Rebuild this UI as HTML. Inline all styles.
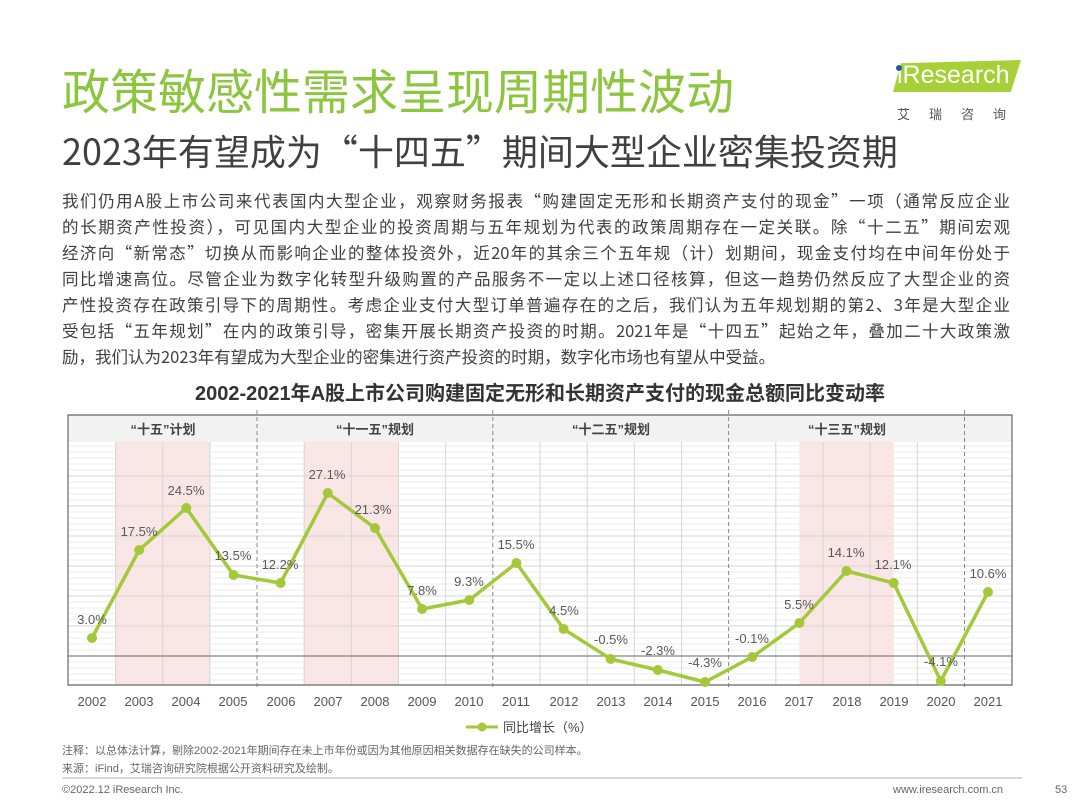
<!DOCTYPE html>
<html><head><meta charset="utf-8"><style>
body{margin:0;width:1080px;height:810px;background:#fff;font-family:"Liberation Sans","Noto Sans CJK SC",sans-serif;position:relative;overflow:hidden}
.a{position:absolute;white-space:nowrap}
.l{position:absolute;left:62px;width:948px;font-size:16.5px;color:#404040;text-align:justify;text-align-last:justify;white-space:nowrap;font-family:"Noto Sans CJK SC",sans-serif;line-height:26px}
.l.e{text-align-last:left}
</style></head><body>
<div class="a" style="left:62px;top:58px;font-size:48px;color:#8cc63f;font-family:'Noto Sans CJK SC',sans-serif;line-height:60px">政策敏感性需求呈现周期性波动</div>
<div class="a" style="left:62px;top:125px;font-size:36px;color:#404040;font-family:'Noto Sans CJK SC',sans-serif;line-height:50px">2023年有望成为“十四五”期间大型企业密集投资期</div>
<div class="a" style="left:893px;top:60px;width:128px;height:32px;background:#a7cf37;clip-path:polygon(6% 10%,100% 0,92% 100%,0 100%)"></div>
<div class="a" style="left:897px;top:61px;font-size:25px;color:#fff">iResearch</div>
<div class="a" style="left:896px;top:65px;width:6px;height:6px;border-radius:50%;background:#1f5aa8"></div>
<div class="a" style="left:897px;top:104px;font-size:13px;color:#555;letter-spacing:19px">艾瑞咨询</div>
<div class="l" style="top:187px">我们仍用A股上市公司来代表国内大型企业，观察财务报表“购建固定无形和长期资产支付的现金”一项（通常反应企业</div>
<div class="l" style="top:213px">的长期资产性投资），可见国内大型企业的投资周期与五年规划为代表的政策周期存在一定关联。除“十二五”期间宏观</div>
<div class="l" style="top:239px">经济向“新常态”切换从而影响企业的整体投资外，近20年的其余三个五年规（计）划期间，现金支付均在中间年份处于</div>
<div class="l" style="top:265px">同比增速高位。尽管企业为数字化转型升级购置的产品服务不一定以上述口径核算，但这一趋势仍然反应了大型企业的资</div>
<div class="l" style="top:291px">产性投资存在政策引导下的周期性。考虑企业支付大型订单普遍存在的之后，我们认为五年规划期的第2、3年是大型企业</div>
<div class="l" style="top:317px">受包括“五年规划”在内的政策引导，密集开展长期资产投资的时期。2021年是“十四五”起始之年，叠加二十大政策激</div>
<div class="l e" style="top:343px">励，我们认为2023年有望成为大型企业的密集进行资产投资的时期，数字化市场也有望从中受益。</div>
<div class="a" style="left:0;width:1080px;text-align:center;top:377px;font-size:20px;font-weight:bold;color:#333">2002-2021年A股上市公司购建固定无形和长期资产支付的现金总额同比变动率</div>
<svg class="a" style="left:0;top:0" width="1080" height="810" font-family="Liberation Sans, Noto Sans CJK SC, sans-serif">
<rect x="68" y="442" width="944" height="243" fill="#fff"/>
<rect x="68" y="415" width="944" height="27" fill="#f2f2f2"/>
<rect x="115.6" y="442" width="94.3" height="243" fill="#fbe4e4"/>
<rect x="304.2" y="442" width="94.3" height="243" fill="#fbe4e4"/>
<rect x="799.4" y="442" width="94.3" height="243" fill="#fbe4e4"/>
<g stroke="#ececec" stroke-width="1">
<path d="M68 446H1012M68 452H1012M68 458H1012M68 464H1012M68 470H1012M68 476H1012M68 482H1012M68 488H1012M68 494H1012M68 500H1012M68 506H1012M68 512H1012M68 518H1012M68 524H1012M68 530H1012M68 536H1012M68 542H1012M68 548H1012M68 554H1012M68 560H1012M68 566H1012M68 572H1012M68 578H1012M68 584H1012M68 590H1012M68 596H1012M68 602H1012M68 608H1012M68 614H1012M68 620H1012M68 626H1012M68 632H1012M68 638H1012M68 644H1012M68 650H1012M68 662H1012M68 668H1012M68 674H1012M68 680H1012"/>
</g>
<g stroke="#d6d6d6" stroke-width="1">
<path d="M68 476H1012M68 506H1012M68 536H1012M68 566H1012M68 596H1012M68 626H1012"/>
<path d="M115.6 442V685M162.7 442V685M209.9 442V685M304.2 442V685M351.4 442V685M398.5 442V685M445.7 442V685M540 442V685M587.2 442V685M634.3 442V685M681.5 442V685M775.8 442V685M823 442V685M870.1 442V685M917.3 442V685"/>
</g>
<path d="M68 656H1012" stroke="#666" stroke-width="1"/>
<g stroke="#888" stroke-width="1" stroke-dasharray="4,3">
<path d="M257 410V690M492.8 410V690M728.6 410V690M964.5 410V690"/>
</g>
<path d="M68 415H1012V685H68Z" fill="none" stroke="#666" stroke-width="1.2"/>
<g font-size="13" font-weight="bold" fill="#444" text-anchor="middle">
<text x="163" y="434">“十五”计划</text>
<text x="375" y="434">“十一五”规划</text>
<text x="611" y="434">“十二五”规划</text>
<text x="847" y="434">“十三五”规划</text>
</g>
<polyline fill="none" stroke="#a3c93a" stroke-width="3.5" stroke-linejoin="round" points="92,638 139.2,550 186.3,508 233.5,575 280.6,583 327.8,493 375,528 422.1,609 469.3,600 516.4,563 563.6,629 610.7,659 657.9,670 705,682 752.2,657 799.4,623 846.5,571 893.7,583 940.8,681 988,592"/>
<g fill="#a3c93a">
<circle cx="92" cy="638" r="5"/><circle cx="139.2" cy="550" r="5"/><circle cx="186.3" cy="508" r="5"/><circle cx="233.5" cy="575" r="5"/><circle cx="280.6" cy="583" r="5"/><circle cx="327.8" cy="493" r="5"/><circle cx="375" cy="528" r="5"/><circle cx="422.1" cy="609" r="5"/><circle cx="469.3" cy="600" r="5"/><circle cx="516.4" cy="563" r="5"/><circle cx="563.6" cy="629" r="5"/><circle cx="610.7" cy="659" r="5"/><circle cx="657.9" cy="670" r="5"/><circle cx="705" cy="682" r="5"/><circle cx="752.2" cy="657" r="5"/><circle cx="799.4" cy="623" r="5"/><circle cx="846.5" cy="571" r="5"/><circle cx="893.7" cy="583" r="5"/><circle cx="940.8" cy="681" r="5"/><circle cx="988" cy="592" r="5"/>
</g>
<g font-size="13" fill="#595959" text-anchor="middle">
<text x="92" y="624">3.0%</text><text x="139" y="536">17.5%</text><text x="186" y="495">24.5%</text><text x="233" y="560">13.5%</text><text x="280" y="569">12.2%</text><text x="327" y="479">27.1%</text><text x="373" y="514">21.3%</text><text x="422" y="595">7.8%</text><text x="469" y="586">9.3%</text><text x="516" y="549">15.5%</text><text x="564" y="615">4.5%</text><text x="611" y="644">-0.5%</text><text x="658" y="655">-2.3%</text><text x="705" y="667">-4.3%</text><text x="752" y="643">-0.1%</text><text x="799" y="609">5.5%</text><text x="846" y="557">14.1%</text><text x="893" y="569">12.1%</text><text x="941" y="666">-4.1%</text><text x="988" y="578">10.6%</text>
</g>
<g font-size="13" fill="#555" text-anchor="middle">
<text x="92" y="706">2002</text><text x="139" y="706">2003</text><text x="186" y="706">2004</text><text x="233" y="706">2005</text><text x="281" y="706">2006</text><text x="328" y="706">2007</text><text x="375" y="706">2008</text><text x="422" y="706">2009</text><text x="469" y="706">2010</text><text x="516" y="706">2011</text><text x="564" y="706">2012</text><text x="611" y="706">2013</text><text x="658" y="706">2014</text><text x="705" y="706">2015</text><text x="752" y="706">2016</text><text x="799" y="706">2017</text><text x="847" y="706">2018</text><text x="894" y="706">2019</text><text x="941" y="706">2020</text><text x="988" y="706">2021</text>
</g>
<path d="M466 727H498" stroke="#a3c93a" stroke-width="3"/><circle cx="482" cy="727" r="4.5" fill="#a3c93a"/>
<text x="503" y="732" font-size="13" fill="#444">同比增长（%）</text>
<path d="M62 778H1022" stroke="#999" stroke-width="0.8"/>
</svg>
<div class="a" style="left:62px;top:742px;font-size:11px;color:#666">注释：以总体法计算，剔除2002-2021年期间存在未上市年份或因为其他原因相关数据存在缺失的公司样本。</div>
<div class="a" style="left:62px;top:760px;font-size:11px;color:#666">来源：iFind，艾瑞咨询研究院根据公开资料研究及绘制。</div>
<div class="a" style="left:62px;top:784px;font-size:11px;color:#666">©2022.12 iResearch Inc.</div>
<div class="a" style="left:893px;top:784px;font-size:11px;color:#666">www.iresearch.com.cn</div>
<div class="a" style="left:1055px;top:784px;font-size:11px;color:#666">53</div>
</body></html>
